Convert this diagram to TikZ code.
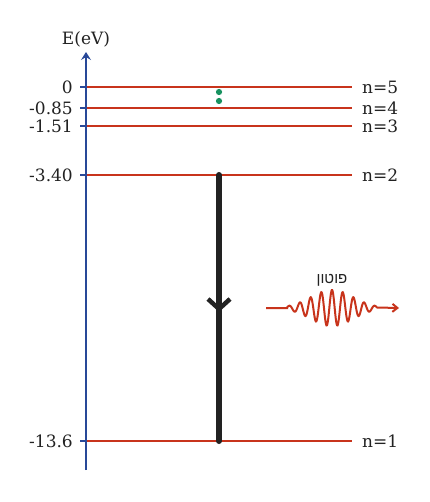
\documentclass[tikz,border=0pt]{standalone}
\usepackage{fontspec}
\setmainfont{DejaVu Serif}
\newfontfamily\hebfont[Script=Hebrew]{Liberation Sans}
\TeXXeTstate=1
\usetikzlibrary{arrows.meta}
\definecolor{lvlred}{RGB}{200,52,28}
\definecolor{axblue}{RGB}{40,72,152}
\definecolor{dotgreen}{RGB}{24,146,96}
\definecolor{txt}{RGB}{34,34,34}
\definecolor{transblack}{RGB}{34,34,34}
\tikzset{
  level/.style={draw=lvlred, line width=2.2pt},
  axtick/.style={draw=axblue, line width=2.2pt},
  axisline/.style={draw=axblue, line width=2.8pt, -{Stealth[length=8pt,width=10pt,inset=3pt]}},
  elabel/.style={text=txt, font=\fontsize{17}{19}\selectfont, inner sep=0pt, anchor=east},
  nlabel/.style={text=txt, font=\fontsize{17}{19}\selectfont, inner sep=0pt, anchor=west},
  trans/.style={draw=transblack, line width=6pt, line cap=round},
  chev/.style={draw=transblack, line width=4.5pt, line cap=butt, line join=miter},
  gdot/.style={fill=dotgreen, draw=none},
  photon/.style={draw=lvlred, line width=2pt, -{Straight Barb[length=5pt,width=8pt]}},
  heb/.style={text=txt, font=\hebfont\fontsize{15}{17}\selectfont, inner sep=0pt}
}
\begin{document}
\begin{tikzpicture}[x=1pt,y=-1pt]
\useasboundingbox (0,0) rectangle (429,502);
\fill[white] (0,0) rectangle (429,502);
% axis
\coordinate (axbot) at (86,470);
\coordinate (axtop) at (86,52);
\node[text=txt, font=\fontsize{17}{19}\selectfont, inner sep=0pt] (axlab) at (86,39) {E(eV)};
% levels
\foreach \n/\y/\e in {5/87/0, 4/108/-0.85, 3/126/-1.51, 2/175/-3.40, 1/441/-13.6}{
  \coordinate (T\n) at (80,\y);
  \coordinate (L\n) at (86,\y);
  \coordinate (R\n) at (352,\y);
  \draw[level] (L\n) -- (R\n);
  \draw[axtick] (T\n) -- (L\n);
  \node[elabel] (E\n) at (73,\y) {\e};
  \node[nlabel] (N\n) at (362,\y) {n=\n};
}
\draw[axisline] (axbot) -- (axtop);
% green dots
\fill[gdot] (219,92) circle (3.1pt);
\fill[gdot] (219,101) circle (3.1pt);
% transition
\coordinate (P2) at (219,175);
\coordinate (P1) at (219,441);
\draw[trans] (P2) -- (P1);
\coordinate (chv) at (219,309);
\draw[chev] ([shift={(-11,-10)}]chv) -- (chv) -- ([shift={(11,-10)}]chv);
% photon
\coordinate (ph0) at (266,308);
\coordinate (ph1) at (399,308);
\draw[photon] (ph0) -- (287,308) -- plot[domain=287:377, samples=240, smooth] (\x, {308 - 18*exp(-((\x-332)^2)/882)*cos(360*(\x-332)/10.7)}) -- (ph1);
\node[heb] (phl) at (332,280) {\beginR פוטון\endR};
\end{tikzpicture}
\end{document}
